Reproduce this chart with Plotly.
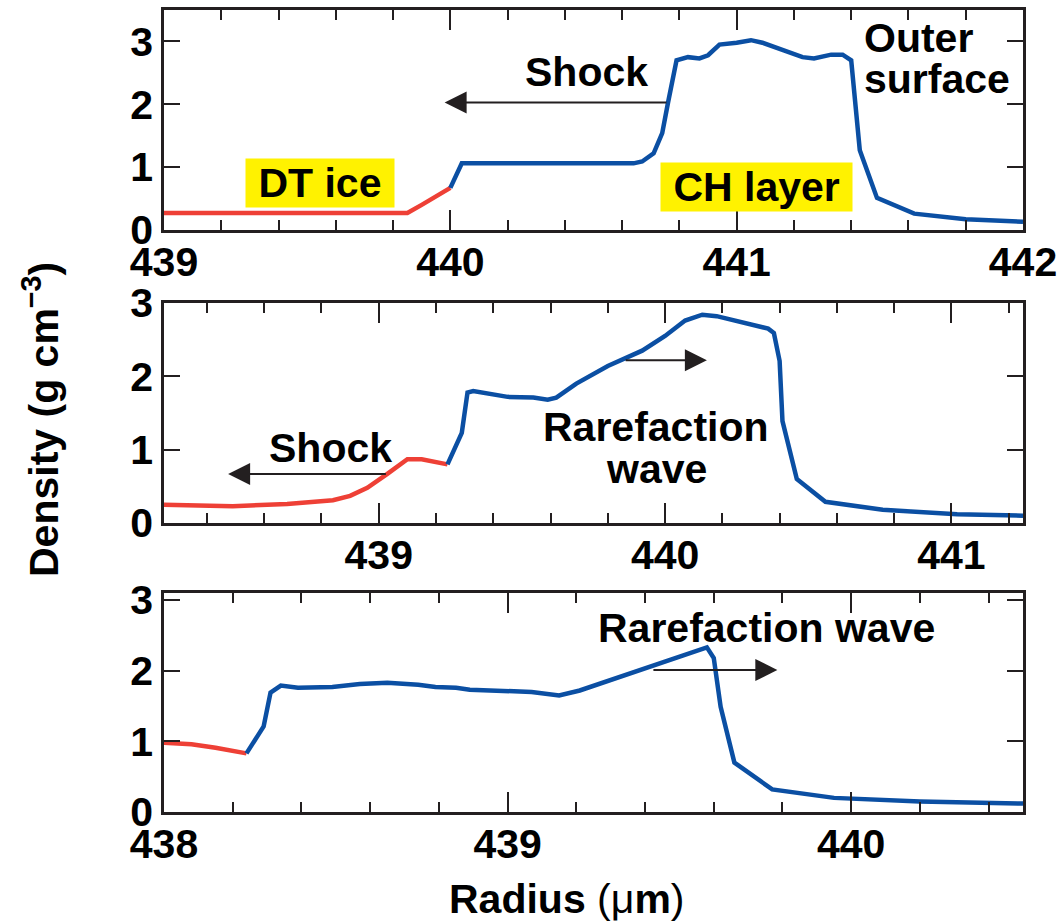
import plotly.graph_objects as go

# ---------------- data ----------------
top_red_x = [439.0, 439.85, 439.9, 440.0]
top_red_y = [0.27, 0.27, 0.40, 0.67]
top_blue_x = [440.0, 440.04, 440.64, 440.67, 440.71, 440.74, 440.76, 440.78, 440.79, 440.83,
              440.87, 440.90, 440.94, 441.0, 441.05, 441.09, 441.16, 441.23, 441.27, 441.33,
              441.37, 441.40, 441.43, 441.49, 441.62, 441.80, 442.0]
top_blue_y = [0.67, 1.06, 1.06, 1.09, 1.22, 1.54, 2.02, 2.49, 2.70, 2.75,
              2.73, 2.78, 2.95, 2.98, 3.02, 2.98, 2.86, 2.75, 2.73, 2.79,
              2.79, 2.70, 1.27, 0.51, 0.26, 0.17, 0.13]

mid_red_x = [438.25, 438.49, 438.68, 438.84, 438.90, 438.96, 439.03, 439.10, 439.15, 439.24]
mid_red_y = [0.25, 0.23, 0.26, 0.31, 0.37, 0.48, 0.67, 0.87, 0.87, 0.80]
mid_blue_x = [439.24, 439.29, 439.31, 439.33, 439.45, 439.54, 439.59, 439.62, 439.69, 439.80,
              439.92, 440.0, 440.07, 440.13, 440.18, 440.28, 440.36, 440.38, 440.40, 440.41,
              440.46, 440.56, 440.76, 441.02, 441.25]
mid_blue_y = [0.80, 1.23, 1.78, 1.80, 1.72, 1.71, 1.68, 1.71, 1.90, 2.14,
              2.35, 2.55, 2.76, 2.84, 2.82, 2.73, 2.65, 2.59, 2.21, 1.39,
              0.60, 0.29, 0.18, 0.12, 0.10]

bot_red_x = [438.0, 438.08, 438.15, 438.24]
bot_red_y = [0.98, 0.96, 0.91, 0.83]
bot_blue_x = [438.24, 438.29, 438.31, 438.34, 438.39, 438.49, 438.57, 438.65, 438.74, 438.79,
              438.85, 438.89, 439.07, 439.15, 439.21, 439.30, 439.43, 439.49, 439.58, 439.60,
              439.62, 439.66, 439.77, 439.95, 440.20, 440.50]
bot_blue_y = [0.83, 1.21, 1.69, 1.79, 1.76, 1.77, 1.81, 1.83, 1.80, 1.77,
              1.76, 1.73, 1.70, 1.65, 1.72, 1.87, 2.07, 2.18, 2.33, 2.18,
              1.49, 0.70, 0.32, 0.20, 0.15, 0.12]

RED = "#EE4036"
BLUE = "#0B4FA3"
FONT = "Liberation Sans, Arial, Helvetica, sans-serif"
INK = "#231F20"

fig = go.Figure()
panels = [
    (top_red_x, top_red_y, top_blue_x, top_blue_y, "x", "y"),
    (mid_red_x, mid_red_y, mid_blue_x, mid_blue_y, "x2", "y2"),
    (bot_red_x, bot_red_y, bot_blue_x, bot_blue_y, "x3", "y3"),
]
for rx, ry, bx, by, xa, ya in panels:
    fig.add_trace(go.Scatter(x=rx, y=ry, mode="lines", line=dict(color=RED, width=4.5),
                             xaxis=xa, yaxis=ya, showlegend=False))
    fig.add_trace(go.Scatter(x=bx, y=by, mode="lines", line=dict(color=BLUE, width=4.5),
                             xaxis=xa, yaxis=ya, showlegend=False))

tickfont = dict(family=FONT, size=41, color="black", weight="bold")

def xax(rng, dom_anchor):
    return dict(range=rng, dtick=1, tick0=438, ticks="inside", ticklen=20, tickwidth=2,
                tickcolor=INK, showline=True, linewidth=2.5, linecolor=INK, mirror="allticks",
                showgrid=False, zeroline=False, tickfont=tickfont, anchor=dom_anchor,
                automargin=False,
                minor=dict(dtick=0.2, tick0=438, ticks="inside", ticklen=10, tickwidth=2,
                           tickcolor=INK, showgrid=False),
                ticklabelstandoff=-6)

def yax(rng, dom, anchor):
    return dict(range=rng, dtick=1, tick0=0, ticks="inside", ticklen=16, tickwidth=2,
                tickcolor=INK, showline=True, linewidth=2.5, linecolor=INK, mirror="allticks",
                showgrid=False, zeroline=False, tickfont=tickfont, domain=dom, anchor=anchor,
                automargin=False, ticklabelstandoff=0)

fig.update_layout(
    width=1063, height=924,
    margin=dict(l=164, r=40, t=10, b=112, autoexpand=False),
    paper_bgcolor="white", plot_bgcolor="white",
    xaxis=xax([439, 442], "y"),
    yaxis=yax([0, 3.5], [0.7257, 1.0], "x"),
    xaxis2=xax([438.25, 441.25], "y2"),
    yaxis2=yax([0, 3.0], [0.3603, 0.6347], "x2"),
    xaxis3=xax([438.0, 440.5], "y3"),
    yaxis3=yax([0, 3.1], [0.0, 0.2731], "x3"),
)

afont = dict(family=FONT, size=41, color="black", weight="bold")

def txt(x, y, s, xa, ya, **kw):
    fig.add_annotation(x=x, y=y, xref=xa, yref=ya, text=s, showarrow=False, font=afont, **kw)

def arrow(x_head, x_tail, y, xa, ya):
    fig.add_annotation(x=x_head, y=y, ax=x_tail, ay=y, xref=xa, yref=ya, axref=xa, ayref=ya,
                       text="", showarrow=True, arrowhead=2, arrowsize=2.2, arrowwidth=2,
                       arrowcolor=INK)

# top panel
txt(440.477, 2.52, "Shock", "x", "y")
arrow(439.98, 440.76, 2.03, "x", "y")
txt(441.438, 3.05, "Outer", "x", "y", xanchor="left")
txt(441.438, 2.40, "surface", "x", "y", xanchor="left")
txt(439.545, 0.75, "\u00a0DT ice\u00a0", "x", "y", bgcolor="#FFF200", borderpad=1)
txt(441.068, 0.69, "\u00a0CH layer\u00a0", "x", "y", bgcolor="#FFF200", borderpad=1)

# middle panel
txt(438.833, 1.02, "Shock", "x2", "y2")
arrow(438.474, 439.03, 0.67, "x2", "y2")
txt(439.969, 1.31, "Rarefaction", "x2", "y2")
txt(439.969, 0.74, "wave", "x2", "y2")
arrow(440.146, 439.857, 2.22, "x2", "y2")

# bottom panel
txt(439.753, 2.60, "Rarefaction wave", "x3", "y3")
arrow(439.785, 439.42, 2.01, "x3", "y3")

# axis titles
fig.add_annotation(x=-0.1432, y=0.49, xref="paper", yref="paper", showarrow=False,
                   text="Density (g cm<sup>\u22123</sup>)", textangle=-90,
                   font=afont, xanchor="center", yanchor="middle")
fig.add_annotation(x=0.469, y=-0.1085, xref="paper", yref="paper", showarrow=False,
                   text="<b>Radius</b> (\u03bc<b>m</b>)",
                   font=dict(family=FONT, size=41, color="black"),
                   xanchor="center", yanchor="middle")

fig.write_html("out.html")
